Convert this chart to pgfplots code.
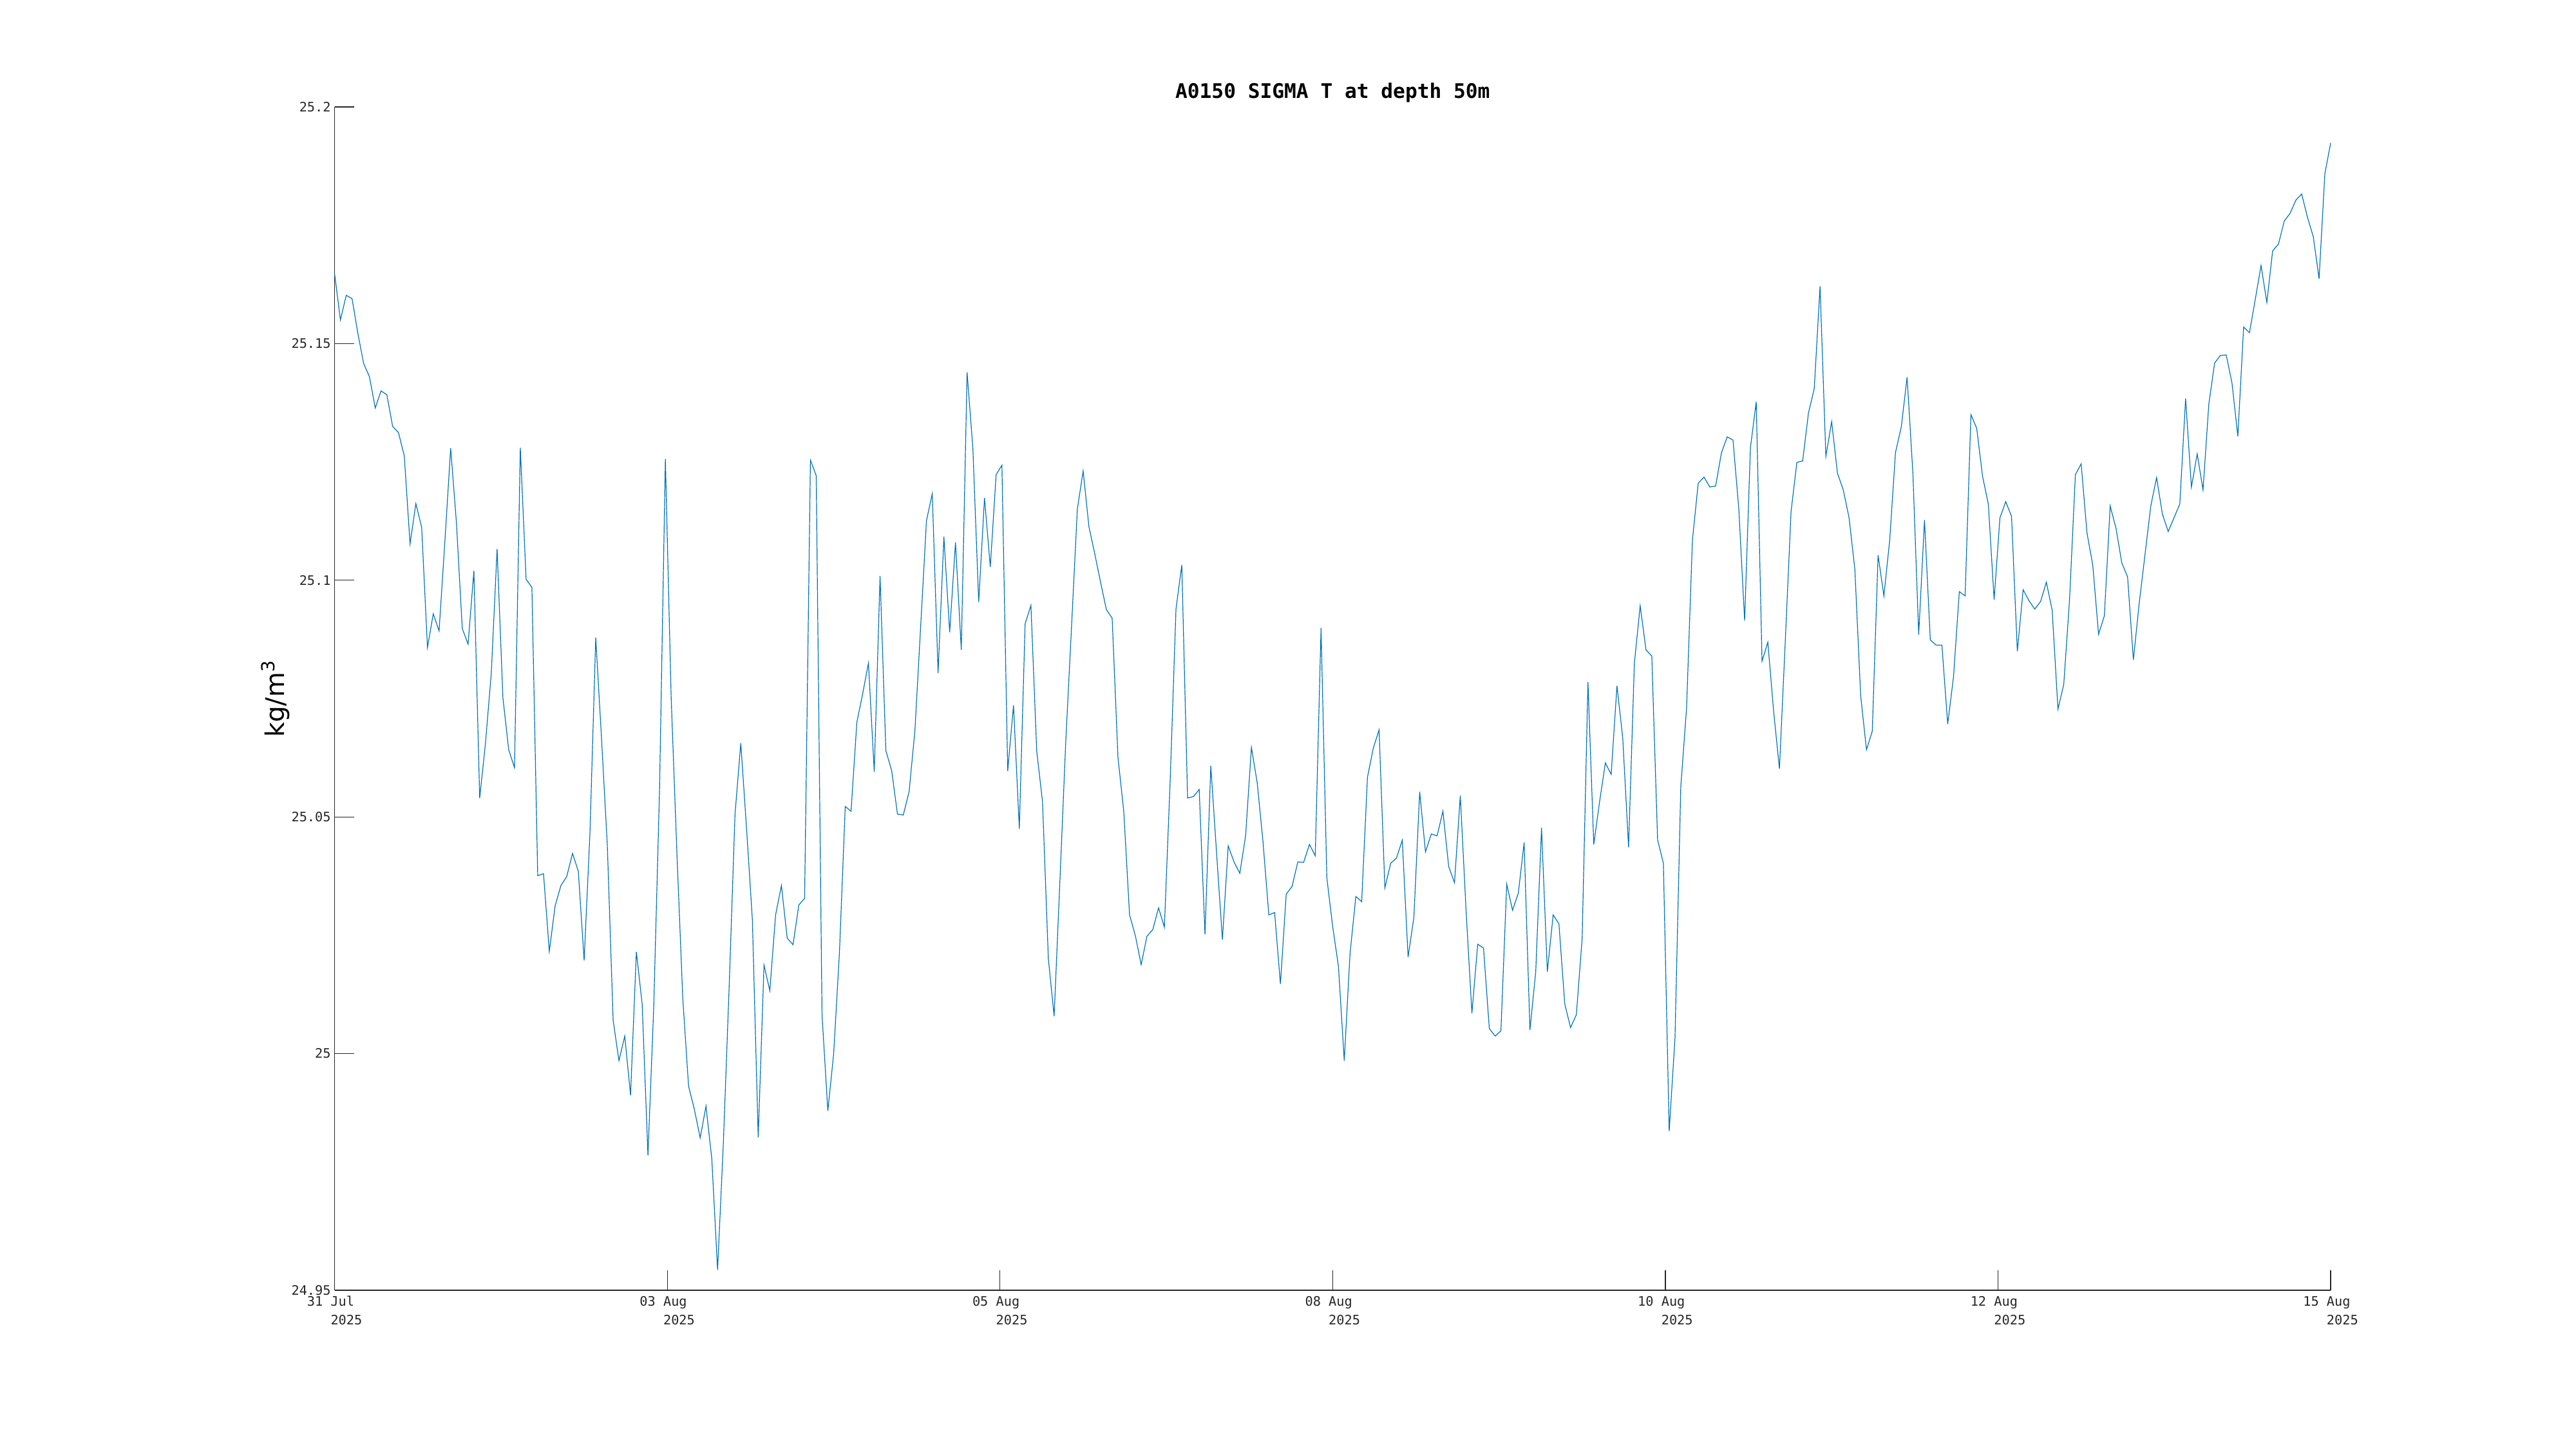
\documentclass[border=0pt]{standalone}
\usepackage{pgfplots}
\pgfplotsset{compat=1.18}
\usepackage{pgfplotstable}
\usepackage{fontspec}
\newfontfamily\monofont{DejaVu Sans Mono}
\newfontfamily\labfont{DejaVu Sans}
\definecolor{mblue}{rgb}{0,0.447,0.741}
\definecolor{axgray}{rgb}{0.15,0.15,0.15}
\newcommand{\lbl}[1]{\begin{tabular}{@{}l@{}}#1\\\phantom{00 }2025\end{tabular}}
\pgfplotstableread[row sep=\\]{
y\\
25.1647\\ 25.1550\\ 25.1602\\ 25.1595\\ 25.1522\\ 25.1458\\ 25.1430\\ 25.1364\\ 25.1400\\ 25.1392\\
25.1325\\ 25.1312\\ 25.1263\\ 25.1077\\ 25.1162\\ 25.1112\\ 25.0858\\ 25.0929\\ 25.0893\\ 25.1082\\
25.1279\\ 25.1120\\ 25.0898\\ 25.0865\\ 25.1020\\ 25.0540\\ 25.0656\\ 25.0804\\ 25.1066\\ 25.0752\\
25.0642\\ 25.0604\\ 25.1280\\ 25.1002\\ 25.0985\\ 25.0376\\ 25.0380\\ 25.0216\\ 25.0312\\ 25.0355\\
25.0374\\ 25.0423\\ 25.0385\\ 25.0197\\ 25.0465\\ 25.0879\\ 25.0665\\ 25.0439\\ 25.0070\\ 24.9985\\
25.0037\\ 24.9912\\ 25.0215\\ 25.0105\\ 24.9785\\ 25.0100\\ 25.0560\\ 25.1256\\ 25.0752\\ 25.0420\\
25.0117\\ 24.9931\\ 24.9882\\ 24.9822\\ 24.9889\\ 24.9778\\ 24.9543\\ 24.9813\\ 25.0143\\ 25.0505\\
25.0656\\ 25.0474\\ 25.0282\\ 24.9823\\ 25.0187\\ 25.0133\\ 25.0293\\ 25.0355\\ 25.0244\\ 25.0230\\
25.0314\\ 25.0328\\ 25.1254\\ 25.1221\\ 25.0082\\ 24.9879\\ 24.9999\\ 25.0213\\ 25.0522\\ 25.0512\\
25.0700\\ 25.0760\\ 25.0825\\ 25.0595\\ 25.1009\\ 25.0640\\ 25.0598\\ 25.0506\\ 25.0504\\ 25.0553\\
25.0681\\ 25.0903\\ 25.1126\\ 25.1183\\ 25.0804\\ 25.1092\\ 25.0890\\ 25.1080\\ 25.0853\\ 25.1439\\
25.1278\\ 25.0954\\ 25.1174\\ 25.1028\\ 25.1223\\ 25.1243\\ 25.0597\\ 25.0736\\ 25.0475\\ 25.0908\\
25.0947\\ 25.0639\\ 25.0532\\ 25.0201\\ 25.0079\\ 25.0366\\ 25.0658\\ 25.0902\\ 25.1150\\ 25.1231\\
25.1113\\ 25.1056\\ 25.0996\\ 25.0938\\ 25.0920\\ 25.0626\\ 25.0512\\ 25.0293\\ 25.0249\\ 25.0188\\
25.0248\\ 25.0262\\ 25.0308\\ 25.0267\\ 25.0577\\ 25.0939\\ 25.1032\\ 25.0540\\ 25.0543\\ 25.0558\\
25.0252\\ 25.0608\\ 25.0423\\ 25.0241\\ 25.0439\\ 25.0405\\ 25.0381\\ 25.0460\\ 25.0647\\ 25.0572\\
25.0447\\ 25.0293\\ 25.0298\\ 25.0147\\ 25.0337\\ 25.0353\\ 25.0405\\ 25.0404\\ 25.0442\\ 25.0418\\
25.0899\\ 25.0371\\ 25.0269\\ 25.0184\\ 24.9985\\ 25.0212\\ 25.0332\\ 25.0321\\ 25.0584\\ 25.0645\\
25.0684\\ 25.0350\\ 25.0402\\ 25.0413\\ 25.0451\\ 25.0204\\ 25.0288\\ 25.0553\\ 25.0426\\ 25.0464\\
25.0460\\ 25.0512\\ 25.0395\\ 25.0361\\ 25.0545\\ 25.0301\\ 25.0085\\ 25.0231\\ 25.0223\\ 25.0053\\
25.0037\\ 25.0048\\ 25.0358\\ 25.0303\\ 25.0339\\ 25.0446\\ 25.0050\\ 25.0173\\ 25.0477\\ 25.0173\\
25.0293\\ 25.0274\\ 25.0105\\ 25.0055\\ 25.0082\\ 25.0244\\ 25.0785\\ 25.0442\\ 25.0532\\ 25.0614\\
25.0590\\ 25.0777\\ 25.0666\\ 25.0436\\ 25.0825\\ 25.0946\\ 25.0853\\ 25.0840\\ 25.0452\\ 25.0402\\
24.9836\\ 25.0033\\ 25.0564\\ 25.0731\\ 25.1084\\ 25.1205\\ 25.1218\\ 25.1197\\ 25.1199\\ 25.1269\\
25.1303\\ 25.1296\\ 25.1150\\ 25.0915\\ 25.1280\\ 25.1377\\ 25.0829\\ 25.0869\\ 25.0723\\ 25.0602\\
25.0869\\ 25.1145\\ 25.1249\\ 25.1252\\ 25.1353\\ 25.1405\\ 25.1621\\ 25.1262\\ 25.1335\\ 25.1226\\
25.1191\\ 25.1132\\ 25.1023\\ 25.0756\\ 25.0642\\ 25.0681\\ 25.1053\\ 25.0967\\ 25.1084\\ 25.1270\\
25.1324\\ 25.1429\\ 25.1226\\ 25.0885\\ 25.1127\\ 25.0874\\ 25.0863\\ 25.0863\\ 25.0696\\ 25.0796\\
25.0976\\ 25.0967\\ 25.1350\\ 25.1321\\ 25.1220\\ 25.1161\\ 25.0959\\ 25.1132\\ 25.1166\\ 25.1135\\
25.0850\\ 25.0980\\ 25.0957\\ 25.0939\\ 25.0955\\ 25.0996\\ 25.0937\\ 25.0728\\ 25.0780\\ 25.0959\\
25.1223\\ 25.1246\\ 25.1100\\ 25.1032\\ 25.0886\\ 25.0925\\ 25.1157\\ 25.1110\\ 25.1037\\ 25.1007\\
25.0832\\ 25.0951\\ 25.1054\\ 25.1157\\ 25.1217\\ 25.1140\\ 25.1103\\ 25.1132\\ 25.1161\\ 25.1384\\
25.1197\\ 25.1267\\ 25.1191\\ 25.1372\\ 25.1459\\ 25.1475\\ 25.1476\\ 25.1416\\ 25.1304\\ 25.1535\\
25.1523\\ 25.1593\\ 25.1665\\ 25.1587\\ 25.1696\\ 25.1710\\ 25.1759\\ 25.1775\\ 25.1803\\ 25.1816\\
25.1767\\ 25.1726\\ 25.1637\\ 25.1859\\ 25.1924\\
}\sigmadata
\begin{document}
\begin{tikzpicture}
\path[use as bounding box] (0,0) rectangle (1000pt,562.5pt);
\begin{axis}[
  at={(129.9pt,61.75pt)}, anchor=south west,
  scale only axis, width=774.85pt, height=459.25pt,
  xmin=0, xmax=344, ymin=24.95, ymax=25.2,
  axis x line*=bottom, axis y line*=left,
  axis line style={axgray, line width=0.3pt},
  every tick/.style={axgray, line width=0.3pt},
  tick align=inside, major tick length=7.7pt,
  xtick={0,57.3333,114.6667,172,229.3333,286.6667,344},
  xticklabels={{\lbl{31 Jul}},{\lbl{03 Aug}},{\lbl{05 Aug}},{\lbl{08 Aug}},{\lbl{10 Aug}},{\lbl{12 Aug}},{\lbl{15 Aug}}},
  ytick={24.95,25,25.05,25.1,25.15,25.2},
  yticklabels={24.95,25,25.05,25.1,25.15,25.2},
  ticklabel style={font=\monofont\fontsize{5.07}{7.1}\selectfont, text=axgray},
  xticklabel style={anchor=north, inner sep=0pt, yshift=-1pt},
  yticklabel style={anchor=east, inner sep=0pt, xshift=-1.3pt},
  title={A0150 SIGMA T at depth 50m},
  title style={font=\monofont\bfseries\fontsize{7.8}{9}\selectfont, at={(axis description cs:0.5,1)}, anchor=base, yshift=-2.7pt, inner sep=0pt},
  ylabel={kg/m\textsuperscript{3}},
  ylabel style={font=\labfont\fontsize{10}{11}\selectfont, at={(axis description cs:-0.0297,0.5)}, anchor=center, text=black},
  clip=false,
]
\addplot[mblue, line width=0.3pt, no markers] table[x expr=\coordindex, y=y] {\sigmadata};
\end{axis}
\end{tikzpicture}
\end{document}
